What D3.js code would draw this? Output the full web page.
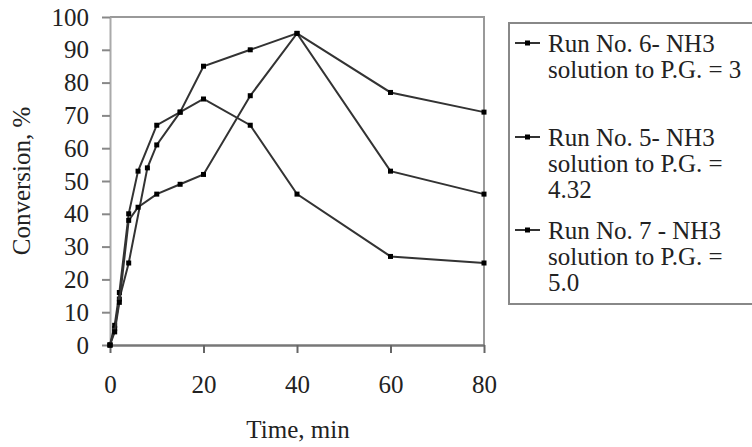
<!DOCTYPE html>
<html>
<head>
<meta charset="utf-8">
<script src="https://cdn.jsdelivr.net/npm/d3@7"></script>
<style>
  body { margin: 0; background: #fff; }
  svg { display: block; }
  text { font-family: "Liberation Serif", "Times New Roman", serif; fill: #222; }
</style>
</head>
<body>
<svg id="chart"></svg>
<script>
// data
var run6Time = [0, 1, 2, 4, 8, 10, 15, 20, 30, 40, 60, 80];
var run6Conv = [0, 5, 14, 25, 54, 61, 71, 85, 90, 95, 77, 71];

var run5Time = [0, 1, 2, 4, 6, 10, 15, 20, 30, 40, 60, 80];
var run5Conv = [0, 6, 16, 40, 53, 67, 71, 75, 67, 46, 27, 25];

var run7Time = [0, 1, 2, 4, 6, 10, 15, 20, 30, 40, 60, 80];
var run7Conv = [0, 4, 13, 38, 42, 46, 49, 52, 76, 95, 53, 46];

var xTicks = [0, 20, 40, 60, 80];
var yTicks = [0, 10, 20, 30, 40, 50, 60, 70, 80, 90, 100];

var legendLabels = [
  ['Run No. 6- NH3', 'solution to P.G. = 3'],
  ['Run No. 5- NH3', 'solution to P.G. =', '4.32'],
  ['Run No. 7 - NH3', 'solution to P.G. =', '5.0']
];

var series = [
  { t: run6Time, v: run6Conv },
  { t: run5Time, v: run5Conv },
  { t: run7Time, v: run7Conv }
];

var svgWidth = 752, svgHeight = 447;
var plotLeft = 110, plotRight = 484, plotTop = 17, plotBottom = 345;

var svg = d3.select('#chart')
    .attr('width', svgWidth)
    .attr('height', svgHeight);

var xScale = d3.scaleLinear().domain([0, 80]).range([plotLeft, plotRight]);
var yScale = d3.scaleLinear().domain([0, 100]).range([plotBottom, plotTop]);

// plot border (top and right)
svg.append('path')
    .attr('d', 'M' + plotLeft + ',' + plotTop + 'H' + plotRight + 'V' + plotBottom)
    .attr('fill', 'none')
    .attr('stroke', '#999')
    .attr('stroke-width', 2);

// y axis
var yAxis = svg.append('g')
    .attr('transform', 'translate(' + plotLeft + ',0)')
    .call(d3.axisLeft(yScale).tickValues(yTicks).tickSize(8).tickSizeOuter(0).tickPadding(13));
yAxis.select('.domain').attr('stroke', '#aaa').attr('stroke-width', 2);
yAxis.selectAll('.tick line').attr('stroke', '#888').attr('stroke-width', 2);
yAxis.selectAll('text').attr('font-size', 25).attr('fill', '#333')
    .style('font-family', '"Liberation Serif", serif');

// x axis
var xAxis = svg.append('g')
    .attr('transform', 'translate(0,' + plotBottom + ')')
    .call(d3.axisBottom(xScale).tickValues(xTicks).tickSize(8).tickSizeOuter(0).tickPadding(22));
xAxis.select('.domain').attr('stroke', '#777').attr('stroke-width', 2.5);
xAxis.selectAll('.tick line').attr('stroke', '#666').attr('stroke-width', 2);
xAxis.selectAll('text').attr('font-size', 25).attr('fill', '#333')
    .style('font-family', '"Liberation Serif", serif');

// axis titles
svg.append('text')
    .attr('x', 298)
    .attr('y', 438)
    .attr('text-anchor', 'middle')
    .attr('font-size', 25)
    .text('Time, min');

svg.append('text')
    .attr('transform', 'translate(30,181) rotate(-90)')
    .attr('text-anchor', 'middle')
    .attr('font-size', 25)
    .text('Conversion, %');

// lines and markers
var line = d3.line()
    .x(function(d) { return xScale(d[0]); })
    .y(function(d) { return yScale(d[1]); });

series.forEach(function(s) {
    var pts = s.t.map(function(t, i) { return [t, s.v[i]]; });
    svg.append('path')
        .datum(pts)
        .attr('d', line)
        .attr('fill', 'none')
        .attr('stroke', '#333')
        .attr('stroke-width', 2);
    svg.selectAll(null)
        .data(pts)
        .enter()
        .append('rect')
        .attr('x', function(d) { return xScale(d[0]) - 2.5; })
        .attr('y', function(d) { return yScale(d[1]) - 2.5; })
        .attr('width', 5)
        .attr('height', 5)
        .attr('fill', '#000');
});

// legend
svg.append('rect')
    .attr('x', 509)
    .attr('y', 23)
    .attr('width', 260)
    .attr('height', 281)
    .attr('fill', '#fff')
    .attr('stroke', '#888')
    .attr('stroke-width', 2);

var entryY = [43, 137, 230];
legendLabels.forEach(function(lines, i) {
    var g = svg.append('g').attr('transform', 'translate(0,' + entryY[i] + ')');
    g.append('line')
        .attr('x1', 515).attr('x2', 540)
        .attr('y1', 0).attr('y2', 0)
        .attr('stroke', '#333').attr('stroke-width', 2);
    g.append('rect')
        .attr('x', 525).attr('y', -2.5)
        .attr('width', 5).attr('height', 5)
        .attr('fill', '#000');
    g.selectAll('text')
        .data(lines)
        .enter()
        .append('text')
        .attr('x', 548)
        .attr('y', function(d, j) { return j * 26; })
        .attr('dy', '0.35em')
        .attr('font-size', 25)
        .text(function(d) { return d; });
});
</script>
</body>
</html>
